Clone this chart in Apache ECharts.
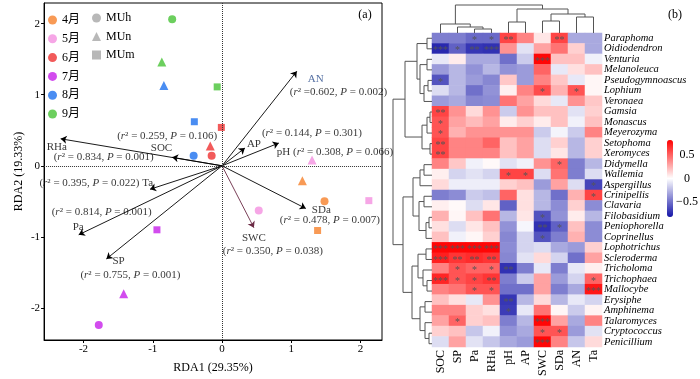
<!DOCTYPE html>
<html><head><meta charset="utf-8">
<script src="https://cdn.jsdelivr.net/npm/echarts@6/dist/echarts.min.js"></script>
<style>html,body{margin:0;padding:0;background:#fff}#c{width:700px;height:379px}</style>
</head><body><div id="c"></div>
<script>
// ---------- Panel (a) data ----------
const months = ['4月','5月','6月','7月','8月','9月'];
const monthColors = ['#F89A55','#F6A6E6','#F25A5A','#D24CEE','#4A8DF2','#6CCF5E'];
const shapes = ['MUh','MUn','MUm'];
const shapeSymbols = ['circle','triangle','rect'];
// site scores [RDA1, RDA2], order: MUh, MUn, MUm
const pts4 = [[1.48,-0.50],[1.16,-0.21],[1.38,-0.91]];
const pts5 = [[0.53,-0.63],[1.30,0.08],[2.12,-0.49]];
const pts6 = [[-0.15,0.14],[-0.17,0.28],[-0.01,0.54]];
const pts7 = [[-1.78,-2.24],[-1.42,-1.80],[-0.94,-0.90]];
const pts8 = [[-0.41,0.14],[-0.84,1.13],[-0.40,0.62]];
const pts9 = [[-0.72,2.06],[-0.87,1.46],[-0.07,1.11]];
const monthPts = [pts4,pts5,pts6,pts7,pts8,pts9];
// environmental arrows
const envNames = ['AN','AP','pH','SOC','RHa','Ta','Pa','SP','SWC','SDa'];
const envX = [1.08,0.33,0.82,-0.72,-2.33,-1.04,-2.07,-1.67,0.46,1.21];
const envY = [1.33,0.25,0.32,0.12,0.38,-0.33,-0.97,-1.31,-0.87,-0.60];
const envR2 = ['0.602','0.144','0.308','0.259','0.834','0.395','0.814','0.755','0.350','0.478'];
const envP = ['0.002','0.301','0.066','0.106','0.001','0.022','0.001','0.001','0.038','0.007'];
const xTicks = [-2,-1,0,1,2];
const yTicks = [-2,-1,0,1,2];

// ---------- Panel (b) data ----------
const genera = ['Paraphoma','Oidiodendron','Venturia','Melanoleuca','Pseudogymnoascus','Lophium','Veronaea','Gamsia','Monascus','Meyerozyma','Setophoma','Xeromyces','Didymella','Wallemia','Aspergillus','Crinipellis','Clavaria','Filobasidium','Peniophorella','Coprinellus','Lophotrichus','Scleroderma','Tricholoma','Trichophaea','Mallocybe','Erysiphe','Amphinema','Talaromyces','Cryptococcus','Penicillium'];
const factors = ['SOC','SP','Pa','RHa','pH','AP','SWC','SDa','AN','Ta'];
const corr = [
 [-0.45,-0.45,-0.52,-0.52, 0.60, 0.40, 0.08, 0.60,-0.30,-0.30],
 [-0.75,-0.55,-0.70,-0.72, 0.35,-0.10, 0.30, 0.45, 0.15,-0.30],
 [-0.08, 0.06,-0.30,-0.30,-0.50,-0.18, 0.80, 0.20, 0.20,-0.05],
 [-0.35,-0.25,-0.38,-0.25,-0.38,-0.35, 0.50,-0.08, 0.10, 0.20],
 [-0.60,-0.25,-0.35,-0.42, 0.18,-0.35, 0.40, 0.18,-0.08, 0.03],
 [-0.12,-0.25,-0.50,-0.38, 0.05, 0.40, 0.58, 0.25, 0.55, 0.03],
 [-0.35,-0.30,-0.42,-0.40, 0.45, 0.30, 0.12,-0.08, 0.35, 0.18],
 [ 0.60, 0.35, 0.12, 0.35,-0.18, 0.35, 0.20, 0.20,-0.10, 0.15],
 [ 0.55, 0.30, 0.22, 0.30, 0.06, 0.15, 0.06, 0.20,-0.05, 0.20],
 [ 0.55, 0.25, 0.35, 0.35, 0.35, 0.35,-0.18,-0.04,-0.18, 0.40],
 [ 0.60, 0.40, 0.40, 0.50, 0.20, 0.30,-0.12, 0.15,-0.25, 0.15],
 [ 0.60, 0.40, 0.40, 0.40, 0.20, 0.30,-0.12, 0.08,-0.25, 0.15],
 [ 0.40, 0.18,-0.05, 0.02,-0.10,-0.05, 0.35, 0.50,-0.45,-0.25],
 [ 0.05,-0.15,-0.10,-0.15, 0.60, 0.60,-0.12, 0.45,-0.45,-0.12],
 [ 0.12,-0.06,-0.06,-0.06, 0.15, 0.20,-0.35, 0.30,-0.12,-0.65],
 [-0.45,-0.40,-0.18,-0.22, 0.50, 0.10,-0.25,-0.50, 0.25, 0.60],
 [ 0.05, 0.02,-0.12, 0.08,-0.55, 0.10,-0.25,-0.40, 0.15,-0.40],
 [ 0.25, 0.03, 0.20, 0.45,-0.25, 0.08,-0.60,-0.38, 0.06,-0.25],
 [ 0.10,-0.12, 0.08, 0.20,-0.38,-0.03,-0.72,-0.55, 0.20,-0.40],
 [ 0.20,-0.05, 0.03, 0.15,-0.42,-0.15,-0.60,-0.45, 0.25,-0.40],
 [ 0.80, 0.80, 0.80, 0.80,-0.40,-0.15,-0.12,-0.30,-0.35, 0.15],
 [ 0.72, 0.65, 0.68, 0.65,-0.42,-0.10, 0.12,-0.15,-0.50, 0.30],
 [ 0.40, 0.55, 0.50, 0.50,-0.72,-0.45,-0.08,-0.45,-0.08, 0.05],
 [ 0.70, 0.55, 0.60, 0.65,-0.45,-0.18, 0.30,-0.35,-0.15, 0.50],
 [ 0.40, 0.45, 0.55, 0.55,-0.50,-0.50, 0.30,-0.45,-0.30, 0.75],
 [ 0.20, 0.10,-0.08, 0.35,-0.70,-0.25, 0.12,-0.25,-0.08,-0.15],
 [ 0.40, 0.40, 0.15, 0.10,-0.68,-0.08, 0.45, 0.03,-0.18, 0.04],
 [ 0.30, 0.50, 0.15, 0.20,-0.45,-0.25, 0.80, 0.30,-0.30, 0.40],
 [ 0.15, 0.20,-0.20,-0.05,-0.38,-0.30, 0.55, 0.55,-0.35,-0.10],
 [-0.12, 0.30,-0.10,-0.20,-0.30,-0.35, 0.80, 0.40,-0.20, 0.12]
];
const sigRows = [
 ',,*,*,**,,,**,,', '***,*,**,***,,,,,,', ',,,,,,***,,,', ',,,,,,,,,', '*,,,,,,,,,', ',,,,,,*,,*,', ',,,,,,,,,',
 '**,,,,,,,,,', '*,,,,,,,,,', '*,,,,,,,,,', '**,,,,,,,,,', '**,,,,,,,,,',
 ',,,,,,,*,,', ',,,,*,*,,,,', ',,,,,,,,,*', ',,,,,,,,,*', ',,,,,,,,,', ',,,,,,*,,,', ',,,,,,**,*,,', ',,,,,,*,,,',
 '***,***,***,***,,,,,,', '***,**,**,**,,,,,,', ',*,*,*,**,,,,,', '***,*,*,**,,,,,,*', ',,*,*,,,,,,***',
 ',,,,**,,,,,', ',,,,*,,,,,', ',*,,,,,***,,,', ',,,,,,*,*,,', ',,,,,,***,,,'
];
const cbTicks = [0.5, 0, -0.5];
// dendrogram linkages: [nodeA, nodeB, height]; leaves are 0..n-1, merges numbered n, n+1, ...
const colLinkage = [[2,3,4],[1,10,6],[0,11,9],[4,5,11],[6,7,12],[8,9,16],[14,15,19],[13,16,24],[12,17,28]];
const rowLinkage = [
 [0,1,5],[2,3,5],[4,5,4],[32,6,8],[31,33,12],[30,34,15],
 [7,8,2],[36,9,5],[10,11,2],[37,38,10],[35,39,27],
 [12,13,8],[41,14,12],[15,16,8],[17,18,3],[44,19,6],[43,45,13],[42,46,19],
 [20,21,6],[23,24,5],[22,49,9],[48,50,14],[25,26,7],[28,29,3],[27,53,7],[52,54,12],[51,55,20],
 [47,56,29],[40,57,39]
];

// ---------- styling/layout config ----------
const SERIF = '"Liberation Serif","Times New Roman",serif';
const CJK = '"Liberation Serif","Noto Sans CJK SC",serif';
const labelLayout = {
 AN: {name:{dx:11,dy:8,align:'left'}, stat:{dx:-7,dy:21,align:'left'}},
 AP: {name:{dx:2,dy:-4,align:'left'}, stat:{dx:17,dy:-15,align:'left'}},
 pH: {combined:'after', name:{dx:-2,dy:9,align:'left'}},
 SOC:{name:{dx:0,dy:-9,align:'right'}, stat:{dx:-5,dy:-21,align:'center'}},
 RHa:{name:{dx:-14,dy:8,align:'left'}, stat:{dx:-7,dy:18,align:'left'}},
 Ta: {combined:'before', name:{dx:3,dy:-6,align:'right'}},
 Pa: {name:{dx:-6,dy:-8,align:'left'}, stat:{dx:-27,dy:-23,align:'left'}},
 SP: {name:{dx:6,dy:2,align:'left'}, stat:{dx:-26,dy:16,align:'left'}},
 SWC:{name:{dx:0,dy:10,align:'center'}, stat:{dx:19,dy:23,align:'center'}},
 SDa:{name:{dx:6,dy:2,align:'left'}, stat:{dx:-26,dy:12,align:'left'}}
};
const symbolSizes = {circle:8, triangle:9, rect:7};
const CB = {left:667, top:140, w:6, h:77, min:-0.82, max:0.82};

function statText(i){
  const eq = envNames[i]==='AN' ? ' =' : ' = ';
  return '({i|r}²' + eq + envR2[i] + ', {i|P} = ' + envP[i] + ')';
}
function dendro(linkage, n, leavesOnX){
  const pos=[], hgt=[];
  for(let i=0;i<n;i++){pos[i]=i;hgt[i]=0;}
  const segs=[];
  linkage.forEach((m,k)=>{
    const [a,b,h]=m, id=n+k;
    pos[id]=(pos[a]+pos[b])/2; hgt[id]=h;
    const pts=[[pos[a],hgt[a]],[pos[a],h],[pos[b],h],[pos[b],hgt[b]]];
    segs.push({coords: leavesOnX ? pts : pts.map(p=>[p[1],p[0]])});
  });
  return segs;
}

const chart = echarts.init(document.getElementById('c'));
const richI = {i:{fontStyle:'italic', fontFamily:SERIF, fontSize:11, color:'#000'}};

const series = [];
months.forEach((m,mi)=>{
  series.push({
    name:m, type:'scatter', xAxisIndex:0, yAxisIndex:0,
    itemStyle:{color:monthColors[mi], opacity:1},
    data: monthPts[mi].map((p,si)=>({value:p, symbol:shapeSymbols[si], symbolSize:symbolSizes[shapeSymbols[si]]})),
    silent:true, z:3,
    markLine: mi===0 ? {silent:true, symbol:['none','none'], label:{show:false},
      lineStyle:{type:'dotted', color:'#333', width:1},
      data:[{xAxis:0},{yAxis:0}]} : undefined
  });
});
shapes.forEach((s,si)=>{
  series.push({name:s, type:'scatter', xAxisIndex:0, yAxisIndex:0, symbol:shapeSymbols[si], itemStyle:{color:'#A6A6A6'}, data:[]});
});
series.push({
  type:'lines', coordinateSystem:'cartesian2d', xAxisIndex:0, yAxisIndex:0,
  symbol:['none','arrow'], symbolSize:[0,6], silent:true, z:4,
  lineStyle:{width:0.9, opacity:1},
  data: envNames.map((n,i)=>({coords:[[0,0],[envX[i],envY[i]]], lineStyle:{color: n==='SWC' ? '#6B2A45' : '#000'}}))
});
series.push({
  type:'scatter', xAxisIndex:0, yAxisIndex:0, symbolSize:0.1, silent:true, z:5,
  itemStyle:{color:'rgba(0,0,0,0)'},
  data: envNames.map((n,i)=>{
    const L = labelLayout[n];
    let txt = n;
    if(L.combined==='after') txt = n + ' ' + statText(i);
    if(L.combined==='before') txt = statText(i) + ' ' + n;
    return {value:[envX[i],envY[i]], label:{show:true, position:'inside', formatter:txt,
      offset:[L.name.dx, L.name.dy], align:L.name.align, verticalAlign:'middle',
      color: n==='AN' ? '#2B4C8C' : '#000', fontFamily:SERIF, fontSize:11, rich:richI}};
  })
});
series.push({
  type:'scatter', xAxisIndex:0, yAxisIndex:0, symbolSize:0.1, silent:true, z:5,
  itemStyle:{color:'rgba(0,0,0,0)'},
  data: envNames.filter(n=>!labelLayout[n].combined).map(n=>{
    const i = envNames.indexOf(n), L = labelLayout[n];
    return {value:[envX[i],envY[i]], label:{show:true, position:'inside', formatter:statText(i),
      offset:[L.stat.dx, L.stat.dy], align:L.stat.align, verticalAlign:'middle',
      color:'#000', fontFamily:SERIF, fontSize:11, rich:richI}};
  })
});
const hmData = [];
corr.forEach((row,r)=>row.forEach((v,c)=>hmData.push([c,r,v])));
const sig = sigRows.map(s=>s.split(','));
const hmIndex = series.length;
series.push({
  type:'heatmap', xAxisIndex:1, yAxisIndex:1, data:hmData, silent:true,
  label:{show:true, formatter:p=>sig[p.data[1]][p.data[0]] || '', color:'#555', fontSize:10, fontFamily:SERIF, offset:[0,2]},
  emphasis:{disabled:true}
});
series.push({type:'lines', coordinateSystem:'cartesian2d', xAxisIndex:2, yAxisIndex:2, polyline:true, silent:true,
  lineStyle:{color:'#555', width:1, opacity:1}, data:dendro(colLinkage, factors.length, true)});
series.push({type:'lines', coordinateSystem:'cartesian2d', xAxisIndex:3, yAxisIndex:3, polyline:true, silent:true,
  lineStyle:{color:'#555', width:1, opacity:1}, data:dendro(rowLinkage, genera.length, false)});

const cbGraphics = cbTicks.map(v=>({type:'text',
  x: CB.left+20, y: CB.top + (CB.max - v)/(CB.max-CB.min)*CB.h,
  style:{text: v<0 ? '−'+Math.abs(v) : String(v), font:'12px '+SERIF, fill:'#000', align:'center', verticalAlign:'middle'}}));

chart.setOption({
  animation:false,
  backgroundColor:'#fff',
  grid:[
    {left:29, top:3, width:353, height:339, show:true, borderColor:'#000', borderWidth:1},
    {left:432, top:33, width:170, height:316},
    {left:432, top:3, width:170, height:30},
    {left:383, top:33, width:49, height:316}
  ],
  xAxis:[
    {gridIndex:0, type:'value', min:-2.57, max:2.31, name:'RDA1 (29.35%)', nameLocation:'middle', nameGap:22,
     nameTextStyle:{fontFamily:SERIF, fontSize:12, color:'#000'},
     axisLine:{show:true, onZero:false, lineStyle:{color:'#000'}},
     axisTick:{show:true, length:3, customValues:xTicks, lineStyle:{color:'#000'}},
     axisLabel:{customValues:xTicks, fontFamily:SERIF, fontSize:11, color:'#000', margin:4},
     splitLine:{show:false}},
    {gridIndex:1, type:'category', data:factors, position:'bottom',
     axisLine:{show:false}, axisTick:{show:false},
     axisLabel:{interval:0, rotate:90, fontFamily:SERIF, fontSize:12, color:'#000', margin:3}},
    {gridIndex:2, type:'value', min:-0.5, max:factors.length-0.5, show:false},
    {gridIndex:3, type:'value', min:0, max:49, inverse:true, show:false}
  ],
  yAxis:[
    {gridIndex:0, type:'value', min:-2.45, max:2.29, name:'RDA2 (19.33%)', nameLocation:'middle', nameGap:19,
     nameTextStyle:{fontFamily:SERIF, fontSize:12, color:'#000'},
     axisLine:{show:true, onZero:false, lineStyle:{color:'#000'}},
     axisTick:{show:true, length:3, customValues:yTicks, lineStyle:{color:'#000'}},
     axisLabel:{customValues:yTicks, fontFamily:SERIF, fontSize:11, color:'#000', margin:4},
     splitLine:{show:false}},
    {gridIndex:1, type:'category', data:genera, inverse:true, position:'right',
     axisLine:{show:false}, axisTick:{show:false},
     axisLabel:{interval:0, fontFamily:SERIF, fontStyle:'italic', fontSize:10.5, color:'#000', margin:2}},
    {gridIndex:2, type:'value', min:0, max:30, show:false},
    {gridIndex:3, type:'value', min:-0.5, max:genera.length-0.5, inverse:true, show:false}
  ],
  legend:[
    {data:months.map(m=>({name:m, icon:'circle'})), orient:'vertical', left:48, top:14, padding:0,
     itemWidth:9, itemHeight:9, itemGap:6.8, selectedMode:false,
     textStyle:{fontFamily:CJK, fontSize:12, color:'#000', lineHeight:10}},
    {data:shapes.map((s,i)=>({name:s, icon:shapeSymbols[i]})), orient:'vertical', left:92, top:12, padding:0,
     itemWidth:9, itemHeight:9, itemGap:6.5, selectedMode:false,
     textStyle:{fontFamily:SERIF, fontSize:12, color:'#000', lineHeight:10}}
  ],
  visualMap:{type:'continuous', seriesIndex:hmIndex, min:CB.min, max:CB.max, show:true, calculable:false,
    left:CB.left, top:CB.top, itemWidth:CB.w, itemHeight:CB.h, padding:0, text:null, hoverLink:false,
    inRange:{color:['#1414A8','#FFFFFF','#FF0000']}},
  graphic:[
    {type:'text', x:365, y:15, style:{text:'(a)', font:'12px '+SERIF, fill:'#000', align:'center', verticalAlign:'middle'}},
    {type:'text', x:675, y:15, style:{text:'(b)', font:'12px '+SERIF, fill:'#000', align:'center', verticalAlign:'middle'}},
    ...cbGraphics
  ],
  series
});
</script></body></html>
